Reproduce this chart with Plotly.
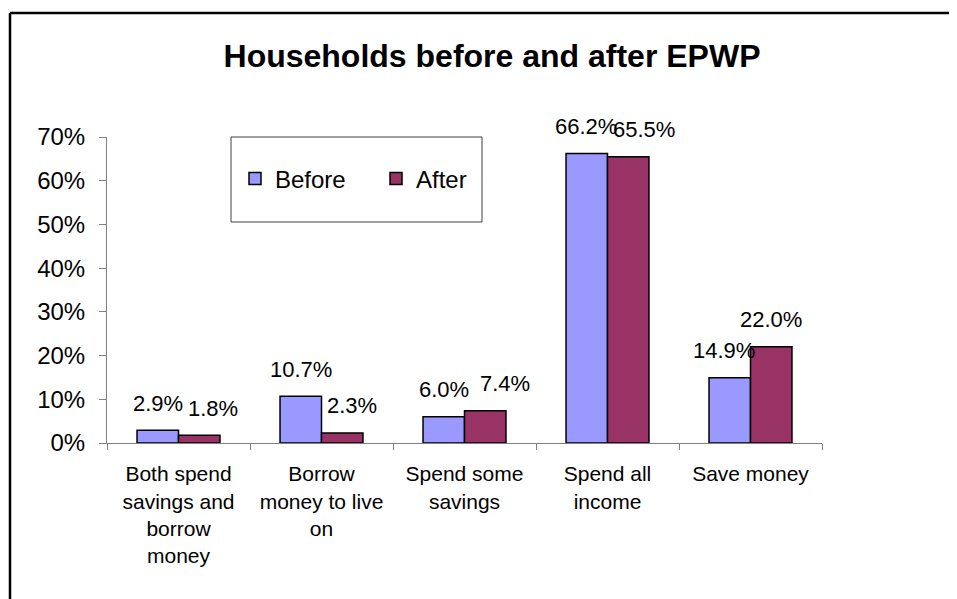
import plotly.graph_objects as go

categories = ["Both spend<br>savings and<br>borrow<br>money",
              "Borrow<br>money to live<br>on",
              "Spend some<br>savings",
              "Spend all<br>income",
              "Save money"]
before = [0.029, 0.107, 0.060, 0.662, 0.149]
after = [0.018, 0.023, 0.074, 0.655, 0.220]
y_ticks = [0, 0.1, 0.2, 0.3, 0.4, 0.5, 0.6, 0.7]

# label horizontal nudges (px) to avoid overlaps, as in the original
label_dx_before = [0, 0, 0, -1, -6]
label_dx_after = [14, 10, 20, 16, 0]

OFF = 8  # page body margin
W, H = 957 - OFF, 599 - OFF
L, T = 107 - OFF, 137 - OFF
R = (957 - OFF) - (822 - OFF)
B = (599 - OFF) - (443 - OFF)
FONT = "Liberation Sans, Arial, sans-serif"

fig = go.Figure()
fig.add_trace(go.Bar(name="Before", x=categories, y=before,
                     marker=dict(color="#9999FF", line=dict(color="black", width=1.5))))
fig.add_trace(go.Bar(name="After", x=categories, y=after,
                     marker=dict(color="#993366", line=dict(color="black", width=1.5))))

pw = W - L - R
ph = H - T - B
bargap = 0.42
barw = pw / len(categories) * (1 - bargap) / 2

annotations = []
for series, sign, dxs in ((before, -1, label_dx_before), (after, 1, label_dx_after)):
    for c, v, dx in zip(categories, series, dxs):
        annotations.append(dict(x=c, y=v, xref="x", yref="y", text=f"{v*100:.1f}%",
                                showarrow=False, xshift=sign * barw / 2 + dx, yshift=27,
                                yanchor="middle", font=dict(size=22, color="black", family=FONT)))

def px_x(p):  # screenshot px -> paper
    return (p - OFF - L) / pw
def px_y(p):
    return 1 - (p - OFF - T) / ph

shapes = [
    dict(type="line", xref="paper", yref="paper", x0=px_x(10), x1=px_x(970), y0=px_y(13), y1=px_y(13),
         line=dict(color="black", width=2.5)),
    dict(type="line", xref="paper", yref="paper", x0=px_x(10), x1=px_x(10), y0=px_y(13), y1=px_y(610),
         line=dict(color="black", width=2.5)),
    dict(type="rect", xref="paper", yref="paper", x0=px_x(231), x1=px_x(482), y0=px_y(137), y1=px_y(222),
         line=dict(color="#404040", width=1), fillcolor="white", layer="below"),
]

fig.update_layout(
    width=W, height=H,
    margin=dict(l=L, r=R, t=T, b=B),
    paper_bgcolor="white", plot_bgcolor="white",
    font=dict(family=FONT, size=21, color="black"),
    title=dict(text="<b>Households before and after EPWP</b>", x=(492 - OFF) / W, xanchor="center",
               y=1 - (56 - OFF) / H, yanchor="middle", font=dict(size=32, family=FONT, color="black")),
    barmode="group", bargap=bargap, bargroupgap=0,
    showlegend=True,
    legend=dict(orientation="h", x=px_x(235), y=px_y(179), xanchor="left", yanchor="middle",
                bgcolor="rgba(0,0,0,0)", borderwidth=0, font=dict(size=24, family=FONT),
                entrywidth=96, entrywidthmode="pixels", itemwidth=30),
    annotations=annotations,
    shapes=shapes,
)
fig.update_xaxes(showline=True, linecolor="#808080", linewidth=1, ticks="outside", tickson="boundaries",
                 ticklen=6, tickcolor="#808080", showgrid=False, tickangle=0, ticklabelstandoff=12,
                 tickfont=dict(size=21))
fig.update_yaxes(range=[0, 0.7], tickvals=y_ticks, tickformat=".0%", showline=True, linecolor="#808080",
                 linewidth=1, ticks="outside", ticklen=7, tickcolor="#808080", showgrid=False,
                 zeroline=False, ticklabelstandoff=9, tickfont=dict(size=24))

fig.write_html("out.html")
